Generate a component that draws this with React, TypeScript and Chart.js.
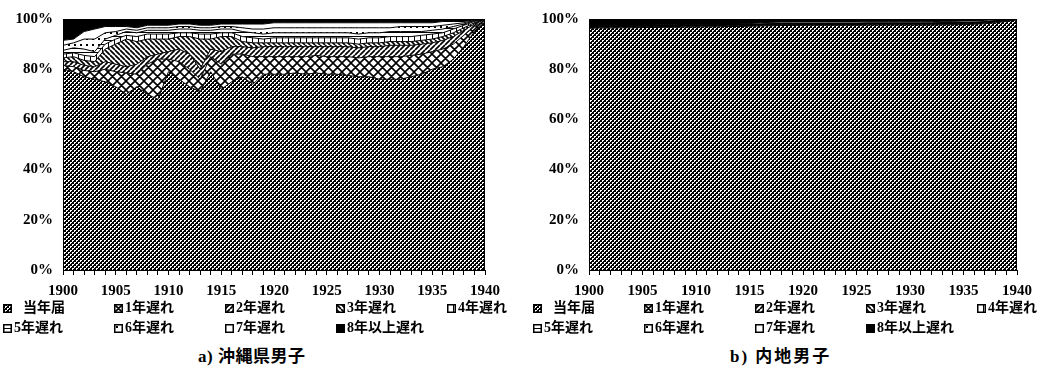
import React, { useEffect, useRef } from 'react';
import { Chart, registerables } from 'chart.js';

Chart.register(...registerables);

const YEARS = [
  1900, 1901, 1902, 1903, 1904, 1905, 1906, 1907, 1908, 1909,
  1910, 1911, 1912, 1913, 1914, 1915, 1916, 1917, 1918, 1919,
  1920, 1921, 1922, 1923, 1924, 1925, 1926, 1927, 1928, 1929,
  1930, 1931, 1932, 1933, 1934, 1935, 1936, 1937, 1938, 1939,
  1940,
];
const X_TICK_LABELS = ['1900', '1905', '1910', '1915', '1920', '1925', '1930', '1935', '1940'];
const Y_TICKS = [0, 20, 40, 60, 80, 100];
const SERIES_NAMES = ['当年届', '1年遅れ', '2年遅れ', '3年遅れ', '4年遅れ', '5年遅れ', '6年遅れ', '7年遅れ', '8年以上遅れ'];
const PATTERN_KINDS = ['dense', 'cross', 'fwd', 'back', 'vert', 'horiz', 'dots', 'white', 'black'];

// a) 沖縄県男子 (%)
const OKI_ON_TIME = [80, 79, 77, 76, 75, 73, 70, 73, 70, 68, 79, 76, 73, 71, 79, 72, 75, 77, 74, 78, 78, 78, 78.5, 78, 78.5, 78, 78, 77.5, 77, 77, 76, 76, 76, 77, 78, 80, 81, 84, 89, 95, 99];
const OKI_LATE1 = [1.5, 2, 2.5, 3, 5, 6, 8.5, 5, 12, 16, 5, 7, 7, 5, 6, 10, 11, 9, 11, 7, 7, 7, 6.5, 7, 7, 7, 7, 7.5, 7.5, 8, 9, 9, 9, 8.5, 8, 7, 7, 6, 4.5, 2, 0.5];
const OKI_LATE2 = [1.5, 2, 2, 2, 3, 3, 2.5, 4, 3, 2, 3, 5, 6, 4, 3, 5, 3, 3, 3.5, 4, 4, 4, 4, 4, 3.5, 4, 4, 4, 4, 4, 4, 4.5, 4.5, 4, 4, 3.5, 3.5, 3, 2, 1, 0.2];
const OKI_LATE3 = [1.5, 2, 2, 2, 5, 8, 11, 9, 7, 6, 5, 5, 7, 12, 4, 6, 4, 2, 2, 1.5, 1.5, 1.5, 1.5, 1.5, 1.5, 1.5, 1.5, 1.5, 1.5, 1.5, 1.5, 1.5, 1.5, 1.5, 1.5, 1.5, 1.5, 1.5, 1, 0.5, 0.1];
const OKI_LATE4 = [1.5, 1.5, 2, 2, 2, 2, 1.5, 2, 2, 2, 2, 1.5, 1.5, 2, 2, 1.5, 1.5, 2, 2, 1.5, 2, 2, 2, 2, 2, 2, 2, 2, 2, 2, 2, 2, 2, 2, 2, 2, 1.5, 1.5, 1, 0.5, 0.05];
const OKI_LATE5 = [1.5, 2, 2.5, 2, 2, 1.5, 1.5, 1.5, 1.5, 1.5, 1.5, 1.5, 1.5, 1.5, 1.5, 1.5, 1.5, 2, 2, 2, 2, 2, 2, 2, 2, 2, 2, 2, 2, 2, 2, 2, 2, 2, 1.5, 1.5, 1.5, 1, 0.5, 0.3, 0.05];
const OKI_LATE6 = [2, 2, 4, 5, 2.5, 1.5, 1, 1, 1, 1, 1, 1, 1, 1, 1, 1, 1, 1.5, 1.5, 2, 2, 2, 2, 2, 2, 2, 2, 2, 2.5, 2, 2, 1.5, 2, 2, 2, 1.5, 1.5, 1, 0.5, 0.2, 0.05];
const OKI_LATE7 = [2, 1.5, 3, 4, 2.5, 2, 1, 1, 1, 1, 1, 1, 1, 1, 1, 1, 1, 1.5, 2, 2, 2, 2, 2, 2, 2, 2, 2, 2, 2, 2, 2, 2, 1.5, 1.5, 1.5, 1.5, 1.5, 1, 0.5, 0.2, 0.02];
const OKI_LATE8 = [8.5, 8, 5, 4, 3, 3, 3, 3.5, 2.5, 2.5, 2.5, 2, 2, 2.5, 2.5, 2, 2, 2, 2, 2, 1.5, 1.5, 1.5, 1.5, 1.5, 1.5, 1.5, 1.5, 1.5, 1.5, 1.5, 1.5, 1.5, 1.5, 1.5, 1.5, 1, 1, 1, 0.3, 0.03];

// b) 内地男子 (%)
const NAI_ON_TIME = [96.3, 96.4, 96.4, 96.5, 96.5, 96.6, 96.6, 96.7, 96.7, 96.8, 96.8, 96.9, 96.9, 97.0, 97.0, 97.1, 97.2, 97.3, 97.4, 97.4, 97.5, 97.5, 97.5, 97.5, 97.5, 97.5, 97.6, 97.6, 97.6, 97.6, 97.6, 97.6, 97.6, 97.7, 97.7, 97.8, 97.9, 98.1, 98.5, 99.0, 99.6];
const NAI_LATE1 = [0.3, 0.3, 0.3, 0.3, 0.3, 0.3, 0.3, 0.3, 0.3, 0.3, 0.3, 0.3, 0.3, 0.3, 0.3, 0.3, 0.3, 0.3, 0.3, 0.3, 0.3, 0.3, 0.3, 0.3, 0.3, 0.3, 0.3, 0.3, 0.3, 0.3, 0.3, 0.3, 0.3, 0.3, 0.3, 0.3, 0.3, 0.3, 0.3, 0.25, 0.1];
const NAI_LATE2 = [0.15, 0.15, 0.15, 0.15, 0.15, 0.15, 0.15, 0.15, 0.15, 0.15, 0.15, 0.15, 0.15, 0.15, 0.15, 0.15, 0.15, 0.15, 0.15, 0.15, 0.15, 0.15, 0.15, 0.15, 0.15, 0.15, 0.15, 0.15, 0.15, 0.15, 0.15, 0.15, 0.15, 0.15, 0.15, 0.15, 0.15, 0.15, 0.15, 0.1, 0.05];
const NAI_LATE3 = [0.1, 0.1, 0.1, 0.1, 0.1, 0.1, 0.1, 0.1, 0.1, 0.1, 0.1, 0.1, 0.1, 0.1, 0.1, 0.1, 0.1, 0.1, 0.1, 0.1, 0.1, 0.1, 0.1, 0.1, 0.1, 0.1, 0.1, 0.1, 0.1, 0.1, 0.1, 0.1, 0.1, 0.1, 0.1, 0.1, 0.1, 0.1, 0.1, 0.05, 0.02];
const NAI_LATE4 = [0.1, 0.1, 0.1, 0.1, 0.1, 0.1, 0.1, 0.1, 0.1, 0.1, 0.1, 0.1, 0.1, 0.1, 0.1, 0.1, 0.1, 0.1, 0.1, 0.1, 0.1, 0.1, 0.1, 0.1, 0.1, 0.1, 0.1, 0.1, 0.1, 0.1, 0.1, 0.1, 0.1, 0.1, 0.1, 0.1, 0.1, 0.1, 0.1, 0.05, 0.02];
const NAI_LATE5 = [0.1, 0.1, 0.1, 0.1, 0.1, 0.1, 0.1, 0.1, 0.1, 0.1, 0.1, 0.1, 0.1, 0.1, 0.1, 0.1, 0.1, 0.1, 0.1, 0.1, 0.1, 0.1, 0.1, 0.1, 0.1, 0.1, 0.1, 0.1, 0.1, 0.1, 0.1, 0.1, 0.1, 0.1, 0.1, 0.1, 0.1, 0.1, 0.1, 0.05, 0.02];
const NAI_LATE6 = [0.1, 0.1, 0.1, 0.1, 0.1, 0.1, 0.1, 0.1, 0.1, 0.1, 0.1, 0.1, 0.1, 0.1, 0.1, 0.1, 0.1, 0.1, 0.1, 0.1, 0.1, 0.1, 0.1, 0.1, 0.1, 0.1, 0.1, 0.1, 0.1, 0.1, 0.1, 0.1, 0.1, 0.1, 0.1, 0.1, 0.1, 0.1, 0.1, 0.05, 0.02];
const NAI_LATE7 = [0.2, 0.2, 0.2, 0.2, 0.2, 0.2, 0.2, 0.2, 0.2, 0.2, 0.2, 0.2, 0.2, 0.2, 0.2, 0.2, 0.5, 0.5, 0.5, 0.5, 0.5, 0.5, 0.5, 0.5, 0.5, 0.5, 0.5, 0.5, 0.5, 0.5, 0.5, 0.5, 0.5, 0.5, 0.5, 0.5, 0.5, 0.5, 0.4, 0.2, 0.07];
const NAI_LATE8 = [2.65, 2.55, 2.55, 2.45, 2.45, 2.35, 2.35, 2.25, 2.25, 2.15, 2.15, 2.05, 2.05, 1.95, 1.95, 1.85, 1.45, 1.35, 1.25, 1.25, 1.15, 1.15, 1.15, 1.15, 1.15, 1.15, 1.05, 1.05, 1.05, 1.05, 1.05, 1.05, 1.05, 0.95, 0.95, 0.85, 0.75, 0.55, 0.25, 0.25, 0.1];

const OKI_SERIES = [OKI_ON_TIME, OKI_LATE1, OKI_LATE2, OKI_LATE3, OKI_LATE4, OKI_LATE5, OKI_LATE6, OKI_LATE7, OKI_LATE8];
const NAI_SERIES = [NAI_ON_TIME, NAI_LATE1, NAI_LATE2, NAI_LATE3, NAI_LATE4, NAI_LATE5, NAI_LATE6, NAI_LATE7, NAI_LATE8];

const SERIF = '"Liberation Serif", "DejaVu Serif", serif';
const MIXED = '"Liberation Serif", "Noto Sans CJK JP", serif';

function makeTile(kind: string): HTMLCanvasElement {
  const c = document.createElement('canvas');
  let s = 4;
  if (kind === 'cross') s = 9;
  if (kind === 'fwd' || kind === 'back') s = 5;
  if (kind === 'vert') s = 6;
  if (kind === 'dots') s = 6;
  c.width = s;
  c.height = s;
  const x = c.getContext('2d')!;
  x.fillStyle = '#fff';
  x.fillRect(0, 0, s, s);
  x.fillStyle = '#000';
  x.strokeStyle = '#000';
  if (kind === 'dense') {
    x.fillRect(0, 0, s, s);
    x.fillStyle = '#fff';
    x.fillRect(0, 0, 2, 1);
    x.fillRect(0, 1, 1, 1);
    x.fillRect(2, 2, 2, 1);
    x.fillRect(2, 3, 1, 1);
  } else if (kind === 'cross') {
    x.lineWidth = 1.6;
    x.beginPath();
    for (let k = -1; k <= 1; k++) {
      x.moveTo(k * s, 0);
      x.lineTo(k * s + s, s);
      x.moveTo(k * s, s);
      x.lineTo(k * s + s, 0);
    }
    x.stroke();
  } else if (kind === 'fwd') {
    x.lineWidth = 1.7;
    x.beginPath();
    for (let k = -1; k <= 1; k++) {
      x.moveTo(k * s, s);
      x.lineTo(k * s + s, 0);
    }
    x.stroke();
  } else if (kind === 'back') {
    x.lineWidth = 1.7;
    x.beginPath();
    for (let k = -1; k <= 1; k++) {
      x.moveTo(k * s, 0);
      x.lineTo(k * s + s, s);
    }
    x.stroke();
  } else if (kind === 'vert') {
    x.fillRect(0, 0, 1, s);
  } else if (kind === 'horiz') {
    x.fillRect(0, 0, s, 1);
  } else if (kind === 'dots') {
    x.fillRect(2, 2, 2, 2);
  } else if (kind === 'black') {
    x.fillRect(0, 0, s, s);
  }
  return c;
}

function makePattern(ctx: CanvasRenderingContext2D, kind: string): CanvasPattern | string {
  const p = ctx.createPattern(makeTile(kind), 'repeat');
  return p || (kind === 'black' ? '#000' : '#fff');
}

const framePlugin = {
  id: 'frame',
  afterDatasetsDraw(chart: any) {
    const { ctx, chartArea } = chart;
    const { left, top, right, bottom } = chartArea;
    ctx.save();
    ctx.strokeStyle = '#000';
    ctx.lineWidth = 1;
    ctx.strokeRect(Math.round(left) + 0.5, Math.round(top) + 0.5, Math.round(right - left) - 1, Math.round(bottom - top));
    ctx.restore();
  },
};

function AreaChart({ series, width, padRight }: { series: number[][]; width: number; padRight: number }) {
  const ref = useRef<HTMLCanvasElement | null>(null);
  useEffect(() => {
    const canvas = ref.current!;
    const ctx = canvas.getContext('2d')!;
    const datasets = SERIES_NAMES.map((name, i) => ({
      label: name,
      data: YEARS.map((yr, j) => ({ x: yr, y: series[i][j] })),
      fill: i === 0 ? 'origin' : '-1',
      backgroundColor: makePattern(ctx, PATTERN_KINDS[i]),
      borderColor: '#000',
      borderWidth: 1,
      pointRadius: 0,
      pointHoverRadius: 0,
      tension: 0,
    }));
    const chart = new Chart(canvas, {
      type: 'line',
      data: { datasets },
      plugins: [framePlugin],
      options: {
        animation: false,
        responsive: false,
        devicePixelRatio: 1,
        events: [],
        layout: { padding: { left: 0, right: padRight, top: 12, bottom: 0 } },
        plugins: { legend: { display: false }, tooltip: { enabled: false } },
        scales: {
          x: {
            type: 'linear',
            min: 1900,
            max: 1940,
            afterFit: (s: any) => {
              s.height = 30;
            },
            ticks: {
              stepSize: 1,
              autoSkip: false,
              maxRotation: 0,
              minRotation: 0,
              color: '#000',
              padding: 7,
              font: { family: SERIF, size: 15, weight: 'bold' },
              callback: (v: any) => {
                const t = String(Math.round(Number(v)));
                return X_TICK_LABELS.includes(t) ? t : '';
              },
            },
            grid: { drawOnChartArea: false, drawTicks: true, tickLength: 5, color: '#000', lineWidth: 1 },
            border: { display: true, color: '#000', width: 1 },
          },
          y: {
            stacked: true,
            min: 0,
            max: 100,
            afterFit: (s: any) => {
              s.width = 63;
            },
            afterBuildTicks: (s: any) => {
              s.ticks = Y_TICKS.map((v) => ({ value: v }));
            },
            ticks: {
              color: '#000',
              padding: 10,
              font: { family: SERIF, size: 15, weight: 'bold' },
              callback: (v: any) => `${v}%`,
            },
            grid: { display: true, drawOnChartArea: false, drawTicks: false, color: '#000' },
            border: { display: true, color: '#000', width: 1 },
          },
        },
      } as any,
    });
    return () => chart.destroy();
  }, [series, width, padRight]);
  return <canvas ref={ref} width={width} height={300} style={{ display: 'block', width, height: 300 }} />;
}

function Swatch({ kind }: { kind: string }) {
  const ref = useRef<HTMLCanvasElement | null>(null);
  useEffect(() => {
    const c = ref.current!;
    const ctx = c.getContext('2d')!;
    ctx.fillStyle = makePattern(ctx, kind) as any;
    ctx.fillRect(0, 0, 9, 9);
    ctx.strokeStyle = '#000';
    ctx.lineWidth = 1.5;
    ctx.strokeRect(0.75, 0.75, 7.5, 7.5);
  }, [kind]);
  return <canvas ref={ref} width={9} height={9} style={{ display: 'block', width: 9, height: 9 }} />;
}

function Legend({ cols }: { cols: number[] }) {
  const rows = [308, 328];
  return (
    <>
      {SERIES_NAMES.map((name, i) => {
        const row = Math.floor(i / 5);
        const col = i % 5;
        return (
          <div
            key={name}
            style={{
              position: 'absolute',
              left: cols[col],
              top: rows[row] - 10,
              height: 20,
              display: 'flex',
              alignItems: 'center',
              whiteSpace: 'nowrap',
              fontFamily: MIXED,
              fontSize: 14,
              fontWeight: 'bold',
              color: '#000',
            }}
          >
            <Swatch kind={PATTERN_KINDS[i]} />
            <span style={{ marginLeft: i === 0 ? 11 : 2, lineHeight: '20px' }}>{name}</span>
          </div>
        );
      })}
    </>
  );
}

export default function App() {
  return (
    <div
      style={{
        position: 'fixed',
        left: 0,
        top: 0,
        width: 1053,
        height: 374,
        background: '#fff',
        overflow: 'hidden',
      }}
    >
      <div style={{ position: 'absolute', left: 0, top: 0 }}>
        <AreaChart series={OKI_SERIES} width={526} padRight={41} />
      </div>
      <div style={{ position: 'absolute', left: 526, top: 0 }}>
        <AreaChart series={NAI_SERIES} width={527} padRight={36} />
      </div>
      <Legend cols={[3, 114, 225, 336, 447]} />
      <Legend cols={[533, 644, 755, 866, 977]} />
      <div
        style={{
          position: 'absolute',
          left: 198,
          top: 347,
          lineHeight: '20px',
          fontFamily: MIXED,
          fontSize: 17,
          fontWeight: 'bold',
          letterSpacing: 0.5,
          whiteSpace: 'nowrap',
          color: '#000',
        }}
      >
        a) 沖縄県男子
      </div>
      <div
        style={{
          position: 'absolute',
          left: 730,
          top: 347,
          lineHeight: '20px',
          fontFamily: MIXED,
          fontSize: 17,
          fontWeight: 'bold',
          letterSpacing: 2,
          whiteSpace: 'nowrap',
          color: '#000',
        }}
      >
        b) 内地男子
      </div>
    </div>
  );
}
